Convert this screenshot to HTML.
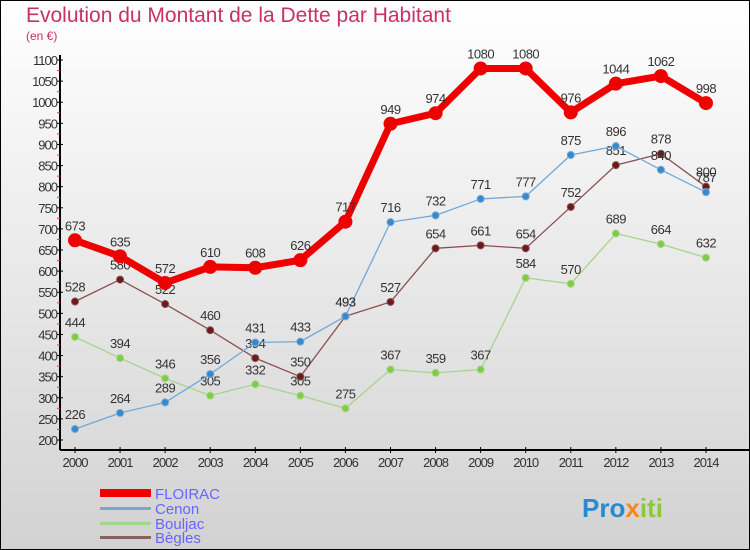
<!DOCTYPE html>
<html><head><meta charset="utf-8"><style>
body{margin:0;width:750px;height:550px;overflow:hidden;font-family:"Liberation Sans",sans-serif}
svg{display:block}
</style></head><body>
<svg id="c" width="750" height="550">
<defs><linearGradient id="bg" x1="0" y1="0" x2="0" y2="1"><stop offset="0" stop-color="#ffffff"/><stop offset="1" stop-color="#d2d2d2"/></linearGradient></defs>
<rect x="0.5" y="0.5" width="749" height="549" fill="url(#bg)" stroke="#000"/>
<text x="26" y="22" font-size="21" fill="#c8306a">Evolution du Montant de la Dette par Habitant</text>
<text x="26" y="40" font-size="12" fill="#c8306a">(en €)</text>
<g id="axes"></g><g id="series"></g>
<g>
<rect x="100" y="489" width="51" height="8" fill="#e00"/>
<text x="155" y="499" font-size="15" fill="#6666ff">FLOIRAC</text>
<rect x="100" y="507" width="51" height="3" fill="#7aa8cc"/>
<text x="155" y="514" font-size="15" fill="#6666ff">Cenon</text>
<rect x="100" y="522" width="51" height="3" fill="#a6d48c"/>
<text x="155" y="529" font-size="15" fill="#6666ff">Bouljac</text>
<rect x="100" y="536" width="51" height="3" fill="#8a6060"/>
<text x="155" y="543" font-size="15" fill="#6666ff">Bègles</text>
</g>
<text x="582" y="517" font-size="26" font-weight="bold" fill="#2a8ad0">Pro<tspan fill="#f08a20">x</tspan><tspan fill="#8cc83c">iti</tspan></text>
</svg>
<script>
const years=[2000,2001,2002,2003,2004,2005,2006,2007,2008,2009,2010,2011,2012,2013,2014];
const floirac=[673,635,572,610,608,626,717,949,974,1080,1080,976,1044,1062,998];
const cenon=[226,264,289,356,431,433,493,716,732,771,777,875,896,840,787];
const bouljac=[444,394,346,305,332,305,275,367,359,367,584,570,689,664,632];
const begles=[528,580,522,460,394,350,493,527,654,661,654,752,851,878,800];
const yTicks=[200,250,300,350,400,450,500,550,600,650,700,750,800,850,900,950,1000,1050,1100];
const NS="http://www.w3.org/2000/svg";
const X=i=>75+i*45.07, Y=v=>440-(v-200)*0.4222;
function mk(t,a,p){const e=document.createElementNS(NS,t);for(const k in a)e.setAttribute(k,a[k]);p.appendChild(e);return e;}
const ax=document.getElementById('axes');
let l=mk('line',{x1:60,y1:55,x2:60,y2:450,stroke:'#000','stroke-width':2},ax);


l=mk('line',{x1:60,y1:450,x2:750,y2:450,stroke:'#000','stroke-width':2},ax);


yTicks.forEach(v=>{mk('line',{x1:57,x2:63,y1:Y(v),y2:Y(v),stroke:'#000'},ax);
 if(v<1100)mk('line',{x1:57,x2:60,y1:Y(v+25),y2:Y(v+25),stroke:'#e33'},ax);
 const t=mk('text',{x:57,y:Y(v)+5,'font-size':13,fill:'#333','text-anchor':'end','letter-spacing':'-1'},ax);t.textContent=v;
 
 });
years.forEach((y,i)=>{mk('line',{x1:X(i),x2:X(i),y1:447,y2:453,stroke:'#000'},ax);
 const t=mk('text',{x:X(i),y:467,'font-size':13,fill:'#333','text-anchor':'middle','letter-spacing':'-1'},ax);t.textContent=y;
 
 });
const sg=document.getElementById('series');
function series(d,name,col,dot,w,r,fs){
 const g=mk('g',{},sg);
 
 
 mk('polyline',{points:d.map((v,i)=>X(i)+','+Y(v)).join(' '),fill:'none',stroke:col,'stroke-width':w,'stroke-linejoin':'round'},g);
 d.forEach((v,i)=>{const c=mk('circle',{cx:X(i),cy:Y(v),r:r,fill:dot,stroke:col,'stroke-width':1},g);
  
  
  const t=mk('text',{x:X(i),y:Y(v)-10,'font-size':fs,fill:'#333','text-anchor':'middle','letter-spacing':'-0.5'},g);t.textContent=v;
  
  });
}
series(bouljac,'bouljac','#a6d48c','#80cc40',1.3,3.5,13);
series(begles,'begles','#8a5050','#6a1a1a',1.3,3.5,13);
series(cenon,'cenon','#70a8d8','#3a88c8',1.3,3.5,13);
series(floirac,'floirac','#e00','#e00',7,6.5,13);
</script>
</body></html>
